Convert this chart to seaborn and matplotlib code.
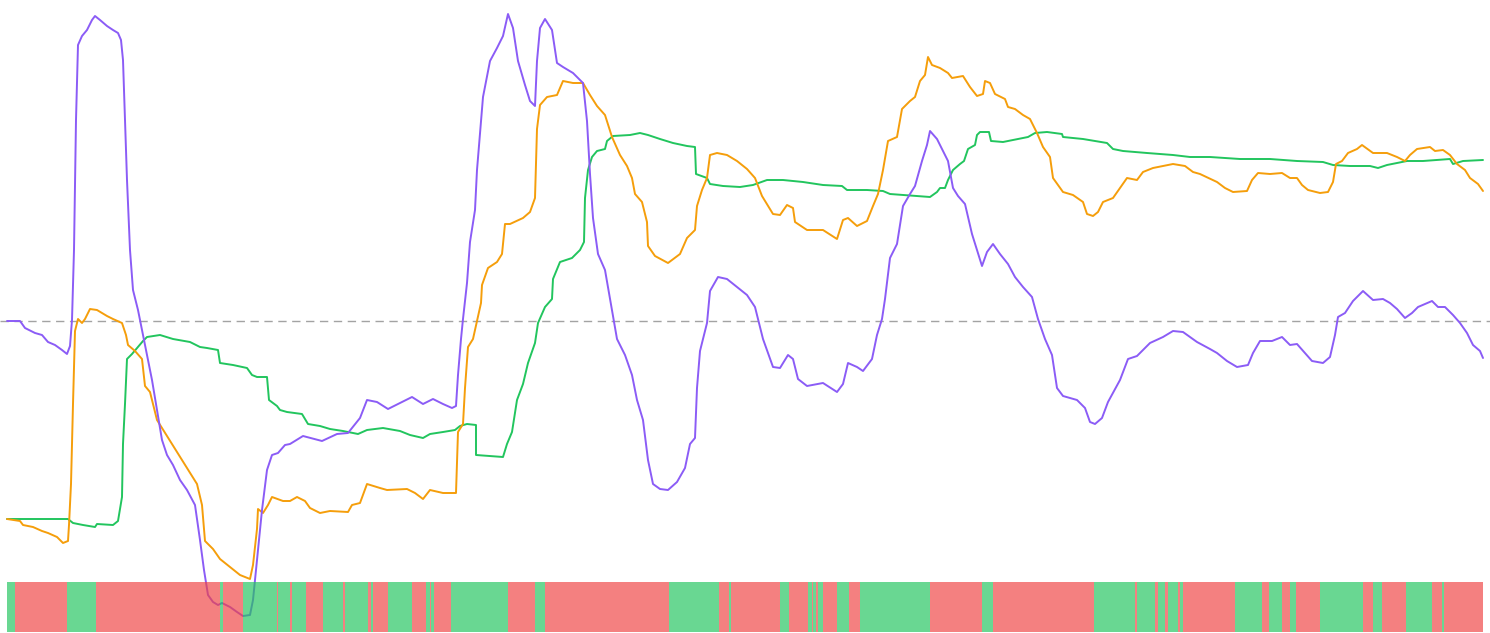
import numpy as np
import pandas as pd
import matplotlib
matplotlib.use("Agg")
import matplotlib.pyplot as plt
import seaborn as sns

# momentum series (bar index, score)
purple_x = [7, 20, 25, 35, 42, 48, 55, 62, 67, 70, 72, 74, 76, 78, 82, 87, 92, 95, 100, 107, 113, 118, 121, 123, 125, 127,
            130, 133, 138, 142, 147, 152, 157, 162, 167, 173, 180, 187, 195, 200, 204, 208, 213, 218, 222, 230, 237, 243,
            250, 253, 257, 262, 267, 272, 278, 285, 290, 303, 322, 337, 348, 360, 367, 377, 388, 400, 412, 423, 433, 443,
            452, 456, 458, 461, 463, 467, 470, 475, 477, 480, 483, 490, 497, 503, 508, 513, 518, 525, 530, 535, 537, 540,
            545, 552, 557, 563, 573, 583, 587, 590, 593, 598, 605, 610, 617, 625, 632, 637, 643, 648, 653, 660, 668, 677,
            685, 690, 695, 697, 700, 707, 710, 718, 727, 737, 747, 755, 763, 773, 780, 788, 793, 798, 807, 823, 837, 843,
            848, 857, 863, 872, 877, 882, 885, 890, 897, 903, 910, 915, 922, 927, 930, 937, 943, 948, 953, 958, 965, 972,
            977, 982, 987, 993, 1000, 1008, 1015, 1023, 1032, 1038, 1045, 1052, 1057, 1063, 1077, 1085, 1090, 1095, 1102,
            1108, 1120, 1128, 1137, 1150, 1163, 1173, 1183, 1197, 1210, 1217, 1227, 1237, 1248, 1253, 1260, 1272, 1282,
            1290, 1297, 1305, 1312, 1323, 1330, 1335, 1338, 1345, 1353, 1363, 1373, 1383, 1390, 1397, 1405, 1412, 1418,
            1432, 1438, 1445, 1453, 1460, 1467, 1473, 1480, 1483]
purple_y = [0, 0, -7, -12, -14, -21, -24, -29, -33, -25, 1, 71, 201, 276, 285, 291, 301, 305, 301, 295, 291, 288, 281, 261,
            201, 141, 71, 31, 11, -9, -34, -59, -89, -119, -134, -144, -159, -169, -184, -219, -249, -274, -281, -284,
            -282, -286, -291, -295, -294, -279, -239, -189, -149, -134, -132, -124, -123, -115, -120, -113, -112, -97,
            -79, -81, -88, -82, -76, -83, -78, -83, -87, -85, -54, -18, 2, 38, 79, 111, 151, 188, 224, 260, 273, 285, 307,
            293, 260, 236, 220, 215, 260, 293, 302, 291, 258, 254, 248, 238, 200, 147, 103, 67, 51, 22, -18, -34, -54,
            -79, -99, -139, -163, -168, -169, -161, -147, -123, -117, -67, -30, -2, 30, 44, 42, 34, 26, 14, -18, -46, -47,
            -34, -38, -58, -65, -62, -71, -63, -42, -46, -50, -38, -14, 2, 22, 63, 77, 115, 127, 135, 160, 176, 190, 182,
            170, 160, 133, 125, 117, 87, 71, 55, 69, 77, 67, 57, 44, 34, 24, 2, -18, -34, -67, -75, -79, -87, -101, -103,
            -97, -81, -59, -38, -35, -22, -16, -10, -11, -21, -28, -32, -40, -46, -44, -32, -20, -20, -16, -24, -23, -32,
            -40, -42, -36, -14, 4, 8, 20, 30, 21, 22, 18, 12, 3, 8, 14, 20, 14, 14, 6, -2, -12, -24, -30, -37]

orange_x = [7, 20, 23, 33, 42, 48, 57, 63, 68, 69, 71, 73, 75, 78, 82, 85, 90, 97, 107, 113, 122, 126, 128, 135, 142, 145,
            150, 157, 167, 177, 187, 197, 202, 205, 213, 220, 230, 240, 250, 253, 257, 258, 263, 268, 272, 283, 290, 297,
            305, 310, 320, 330, 348, 352, 360, 367, 380, 387, 407, 415, 423, 430, 443, 456, 457, 458, 463, 465, 468, 473,
            477, 481, 482, 488, 497, 502, 505, 510, 523, 530, 535, 537, 540, 547, 557, 563, 573, 583, 590, 597, 605, 612,
            620, 627, 632, 635, 642, 647, 648, 655, 668, 680, 687, 695, 697, 702, 707, 710, 717, 727, 737, 747, 755, 762,
            773, 780, 787, 793, 795, 807, 823, 837, 843, 848, 857, 867, 873, 878, 883, 888, 897, 902, 910, 915, 920, 925,
            928, 932, 940, 948, 952, 963, 970, 977, 983, 985, 990, 995, 1005, 1008, 1015, 1023, 1030, 1037, 1043, 1050,
            1053, 1063, 1073, 1083, 1087, 1093, 1098, 1103, 1113, 1120, 1127, 1137, 1143, 1153, 1163, 1173, 1185, 1193,
            1200, 1217, 1225, 1233, 1247, 1252, 1258, 1270, 1282, 1290, 1297, 1302, 1308, 1320, 1328, 1333, 1336, 1342,
            1348, 1357, 1362, 1373, 1387, 1397, 1405, 1410, 1417, 1430, 1435, 1443, 1450, 1457, 1465, 1470, 1478, 1483]
orange_y = [-198, -200, -204, -206, -210, -212, -216, -222, -220, -204, -163, -83, -10, 2, -2, 2, 12, 11, 5, 2, -2, -14,
            -24, -30, -38, -65, -71, -99, -115, -131, -147, -163, -184, -220, -228, -238, -246, -254, -258, -244, -208,
            -188, -192, -184, -176, -180, -180, -176, -180, -187, -192, -190, -191, -184, -182, -163, -167, -169, -168,
            -172, -178, -169, -172, -172, -143, -111, -103, -67, -26, -18, 0, 18, 36, 53, 59, 67, 97, 97, 103, 109, 123,
            192, 216, 224, 226, 240, 238, 238, 226, 215, 206, 184, 166, 155, 143, 127, 119, 99, 75, 65, 58, 67, 83, 91,
            115, 131, 143, 166, 168, 166, 160, 152, 143, 125, 107, 106, 116, 113, 99, 91, 91, 82, 101, 103, 95, 100, 115,
            127, 151, 180, 184, 212, 220, 224, 240, 246, 264, 256, 253, 248, 243, 245, 234, 225, 227, 240, 238, 227, 222,
            214, 212, 206, 202, 188, 174, 164, 143, 129, 126, 119, 107, 105, 109, 119, 123, 133, 143, 141, 149, 153, 155,
            157, 155, 149, 147, 139, 133, 129, 130, 141, 148, 147, 148, 143, 143, 136, 131, 128, 129, 139, 157, 160, 168,
            172, 176, 168, 168, 164, 160, 166, 172, 174, 170, 171, 166, 157, 151, 143, 137, 130]

green_x = [7, 68, 73, 83, 95, 97, 113, 118, 122, 123, 125, 127, 132, 138, 143, 147, 160, 173, 190, 200, 207, 218, 220, 233,
           247, 252, 257, 267, 269, 277, 280, 287, 302, 308, 320, 330, 343, 358, 367, 383, 400, 410, 423, 430, 443, 455,
           460, 467, 476, 476, 490, 503, 507, 512, 517, 523, 528, 535, 538, 545, 552, 553, 560, 572, 580, 584, 585, 588,
           592, 597, 605, 607, 613, 630, 640, 648, 660, 673, 687, 695, 696, 707, 710, 723, 740, 753, 767, 783, 803, 823,
           842, 847, 867, 883, 890, 903, 917, 930, 937, 940, 945, 948, 953, 960, 964, 968, 975, 977, 980, 989, 991, 1003,
           1013, 1028, 1035, 1047, 1062, 1063, 1083, 1107, 1113, 1123, 1147, 1173, 1190, 1210, 1240, 1270, 1297, 1323,
           1333, 1350, 1370, 1378, 1387, 1407, 1423, 1450, 1453, 1463, 1483]
green_y = [-198, -198, -202, -204, -206, -203, -204, -200, -176, -123, -83, -38, -33, -26, -20, -16, -14, -18, -21, -26,
           -27, -29, -42, -44, -47, -54, -56, -56, -79, -85, -89, -91, -93, -103, -105, -108, -110, -113, -109, -107,
           -110, -114, -117, -113, -111, -109, -105, -103, -104, -134, -135, -136, -123, -111, -79, -63, -42, -22, -2,
           14, 22, 42, 59, 63, 71, 79, 123, 151, 164, 170, 172, 180, 185, 186, 188, 186, 182, 178, 175, 174, 147, 143,
           137, 135, 134, 136, 141, 141, 139, 136, 135, 131, 131, 130, 127, 126, 125, 124, 129, 133, 133, 141, 151, 157,
           160, 172, 176, 186, 189, 189, 180, 179, 181, 184, 188, 189, 187, 184, 182, 178, 172, 170, 168, 166, 164, 164,
           162, 162, 160, 159, 156, 155, 155, 153, 156, 160, 160, 162, 157, 160, 161]

# regime strip: start index of each run and its state, last run ends at strip_end
regime_start = [7, 15, 67, 96, 220, 223, 243, 277, 278, 290, 292, 306, 323, 343, 345, 368, 371, 373, 388, 412, 426, 430,
                431, 434, 451, 508, 535, 545, 669, 719, 729, 731, 780, 789, 808, 812, 813, 816, 818, 823, 837, 849, 860,
                930, 982, 993, 1094, 1135, 1137, 1155, 1158, 1165, 1168, 1178, 1180, 1183, 1235, 1262, 1269, 1282, 1290,
                1296, 1320, 1363, 1373, 1382, 1406, 1432, 1442, 1444]
regime_state = ["bull", "bear", "bull", "bear", "bull", "bear", "bull", "bear", "bull", "bear", "bull", "bear", "bull",
                "bear", "bull", "bear", "bull", "bear", "bull", "bear", "bull", "bear", "bull", "bear", "bull", "bear",
                "bull", "bear", "bull", "bear", "bull", "bear", "bull", "bear", "bull", "bear", "bull", "bear", "bull",
                "bear", "bull", "bear", "bull", "bear", "bull", "bear", "bull", "bear", "bull", "bear", "bull", "bear",
                "bull", "bear", "bull", "bear", "bull", "bear", "bull", "bear", "bull", "bear", "bull", "bear", "bull",
                "bear", "bull", "bear", "bull", "bear"]
strip_end = 1483

W, H = 1490, 633
sns.set_theme(style="white")
fig = plt.figure(figsize=(W / 100, H / 100), dpi=100)

ax = fig.add_axes([0, 0, 1, 1])
ax.axhline(0, color="#a3a3a3", lw=1, ls=(0, (6, 4)), zorder=1)

for xs, ys, col in [(green_x, green_y, "#22c55e"),
                    (orange_x, orange_y, "#f59e0b"),
                    (purple_x, purple_y, "#8b5cf6")]:
    df = pd.DataFrame({"bar": xs, "score": ys})
    sns.lineplot(data=df, x="bar", y="score", ax=ax, color=col, lw=1.4,
                 estimator=None, sort=False, zorder=2)

ax.set_xlim(0, W)
ax.set_ylim(-312, 321)
ax.axis("off")

# regime strip, semi-transparent on top of the lines
sax = fig.add_axes([7 / W, 1 / H, (strip_end - 7) / W, 50 / H], zorder=5)
sax.patch.set_alpha(0)
ends = regime_start[1:] + [strip_end]
widths = np.array(ends) - np.array(regime_start)
cols = ["#22c55e" if s == "bull" else "#ef4444" for s in regime_state]
sax.bar(regime_start, np.ones(len(regime_start)), width=widths, align="edge",
        color=cols, alpha=0.68, linewidth=0)
sax.set_xlim(7, strip_end)
sax.set_ylim(0, 1)
sax.axis("off")

fig.savefig("out.png", dpi=100)
